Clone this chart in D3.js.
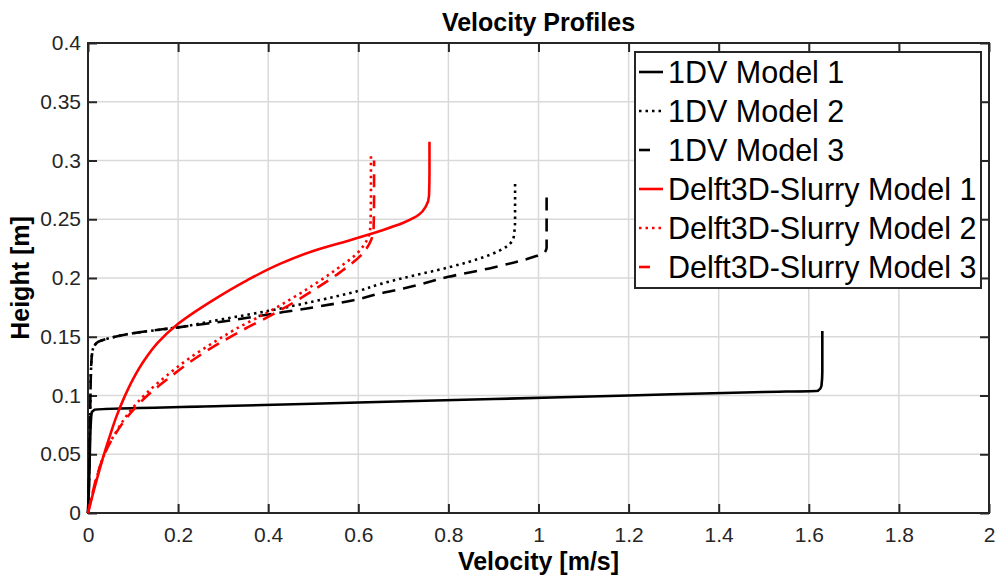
<!DOCTYPE html>
<html>
<head>
<meta charset="utf-8">
<script src="https://cdn.jsdelivr.net/npm/d3@7"></script>
<style>
  body { margin: 0; background: #fff; }
  svg { font-family: "Liberation Sans", Arial, sans-serif; }
</style>
</head>
<body>
<div id="chart"></div>
<script>
// velocity [m/s] and height [m]
const dv1U = [0, 0.002, 0.004, 0.006, 0.008, 0.015, 0.3, 0.6, 0.9, 1.2, 1.5, 1.62, 1.628, 1.63, 1.63];
const dv1Z = [0, 0.02, 0.05, 0.075, 0.085, 0.088, 0.091, 0.094, 0.097, 0.1, 0.103, 0.104, 0.108, 0.12, 0.155];

const dv2U = [0, 0.003, 0.005, 0.007, 0.01, 0.02, 0.05, 0.1, 0.2, 0.3, 0.4, 0.5, 0.6, 0.65, 0.7, 0.8, 0.88, 0.93, 0.945, 0.948, 0.948];
const dv2Z = [0, 0.04, 0.09, 0.125, 0.138, 0.145, 0.149, 0.153, 0.158, 0.165, 0.172, 0.18, 0.189, 0.195, 0.2, 0.209, 0.218, 0.227, 0.235, 0.25, 0.283];

const dv3U = [0, 0.003, 0.005, 0.007, 0.01, 0.02, 0.05, 0.1, 0.2, 0.3, 0.4, 0.5, 0.6, 0.65, 0.7, 0.8, 0.9, 0.99, 1.012, 1.018, 1.018];
const dv3Z = [0, 0.04, 0.09, 0.125, 0.138, 0.145, 0.149, 0.153, 0.158, 0.163, 0.169, 0.175, 0.182, 0.187, 0.191, 0.201, 0.209, 0.218, 0.221, 0.226, 0.273];

const ds1U = [0, 0.004, 0.012, 0.022, 0.034, 0.048, 0.063, 0.08, 0.1, 0.125, 0.155, 0.2, 0.277, 0.353, 0.426, 0.5, 0.58, 0.648, 0.7, 0.735, 0.75, 0.757, 0.758, 0.758];
const ds1Z = [0, 0.006, 0.018, 0.032, 0.048, 0.065, 0.082, 0.098, 0.114, 0.13, 0.145, 0.161, 0.181, 0.198, 0.212, 0.223, 0.232, 0.24, 0.247, 0.254, 0.261, 0.27, 0.29, 0.316];

const ds2U = [0, 0.012, 0.027, 0.042, 0.064, 0.09, 0.13, 0.175, 0.226, 0.278, 0.33, 0.4, 0.45, 0.5, 0.55, 0.6, 0.62, 0.627, 0.628, 0.628];
const ds2Z = [0, 0.019, 0.04, 0.055, 0.07, 0.085, 0.102, 0.117, 0.132, 0.145, 0.157, 0.171, 0.182, 0.194, 0.207, 0.222, 0.233, 0.245, 0.27, 0.305];

const ds3U = [0, 0.01, 0.025, 0.04, 0.062, 0.09, 0.135, 0.18, 0.232, 0.285, 0.34, 0.41, 0.46, 0.51, 0.56, 0.61, 0.628, 0.634, 0.635, 0.635];
const ds3Z = [0, 0.017, 0.038, 0.053, 0.068, 0.083, 0.101, 0.115, 0.13, 0.143, 0.155, 0.169, 0.18, 0.192, 0.205, 0.221, 0.232, 0.243, 0.27, 0.3];

const seriesNames = ["1DV Model 1", "1DV Model 2", "1DV Model 3",
  "Delft3D-Slurry Model 1", "Delft3D-Slurry Model 2", "Delft3D-Slurry Model 3"];

const xTicks = [0, 0.2, 0.4, 0.6, 0.8, 1, 1.2, 1.4, 1.6, 1.8, 2];
const yTicks = [0, 0.05, 0.1, 0.15, 0.2, 0.25, 0.3, 0.35, 0.4];

const W = 997, H = 581;
const margin = { left: 88, right: 989, top: 43, bottom: 513 };

const svg = d3.select("#chart").append("svg")
  .attr("width", W).attr("height", H);

const x = d3.scaleLinear().domain([0, 2]).range([margin.left, margin.right]);
const y = d3.scaleLinear().domain([0, 0.4]).range([margin.bottom, margin.top]);

// grid
svg.append("g").selectAll("line").data(xTicks.slice(1, -1)).join("line")
  .attr("x1", d => x(d)).attr("x2", d => x(d))
  .attr("y1", margin.top).attr("y2", margin.bottom)
  .attr("stroke", "#d9d9d9").attr("stroke-width", 1.5);
svg.append("g").selectAll("line").data(yTicks.slice(1, -1)).join("line")
  .attr("y1", d => y(d)).attr("y2", d => y(d))
  .attr("x1", margin.left).attr("x2", margin.right)
  .attr("stroke", "#d9d9d9").attr("stroke-width", 1.5);

// axes, ticks pointing inward like matlab
const axisColor = "#262626";
const styleAxis = g => {
  g.select(".domain").remove();
  g.selectAll(".tick line").attr("stroke", axisColor).attr("stroke-width", 2);
  g.selectAll(".tick text").attr("fill", "#262626").style("font-size", "21px")
    .style("font-family", "'Liberation Sans', Arial, sans-serif");
};

svg.append("g").attr("transform", `translate(0,${margin.bottom})`)
  .call(d3.axisBottom(x).tickValues(xTicks).tickFormat(d3.format("")).tickSizeInner(-9).tickPadding(14))
  .call(styleAxis);
svg.append("g").attr("transform", `translate(0,${margin.top})`)
  .call(d3.axisTop(x).tickValues(xTicks).tickFormat("").tickSizeInner(-9))
  .call(styleAxis);
svg.append("g").attr("transform", `translate(${margin.left},0)`)
  .call(d3.axisLeft(y).tickValues(yTicks).tickFormat(d3.format("")).tickSizeInner(-9).tickPadding(7))
  .call(styleAxis);
svg.append("g").attr("transform", `translate(${margin.right},0)`)
  .call(d3.axisRight(y).tickValues(yTicks).tickFormat("").tickSizeInner(-9))
  .call(styleAxis);

svg.append("rect")
  .attr("x", margin.left).attr("y", margin.top)
  .attr("width", margin.right - margin.left).attr("height", margin.bottom - margin.top)
  .attr("fill", "none").attr("stroke", axisColor).attr("stroke-width", 2);

// curves
const series = [
  { name: seriesNames[0], u: dv1U, z: dv1Z, color: "#000", dash: null },
  { name: seriesNames[1], u: dv2U, z: dv2Z, color: "#000", dash: "2.5,4" },
  { name: seriesNames[2], u: dv3U, z: dv3Z, color: "#000", dash: "13,8" },
  { name: seriesNames[3], u: ds1U, z: ds1Z, color: "#ff0000", dash: null },
  { name: seriesNames[4], u: ds2U, z: ds2Z, color: "#ff0000", dash: "2.5,4" },
  { name: seriesNames[5], u: ds3U, z: ds3Z, color: "#ff0000", dash: "13,8" }
];

// heights only go up, so a curve monotone in y keeps the corners clean
const line = d3.line()
  .x(d => x(d[0]))
  .y(d => y(d[1]))
  .curve(d3.curveMonotoneY);

svg.append("g").selectAll("path").data(series).join("path")
  .attr("d", s => line(s.u.map((u, i) => [u, s.z[i]])))
  .attr("fill", "none")
  .attr("stroke", s => s.color)
  .attr("stroke-width", 2.6)
  .attr("stroke-dasharray", s => s.dash);

// titles
svg.append("text")
  .attr("x", (margin.left + margin.right) / 2).attr("y", 31)
  .attr("text-anchor", "middle")
  .style("font-size", "25px").style("font-weight", "bold")
  .text("Velocity Profiles");

svg.append("text")
  .attr("x", (margin.left + margin.right) / 2).attr("y", 570)
  .attr("text-anchor", "middle")
  .style("font-size", "25px").style("font-weight", "bold")
  .text("Velocity [m/s]");

svg.append("text")
  .attr("transform", `translate(29,${(margin.top + margin.bottom) / 2}) rotate(-90)`)
  .attr("text-anchor", "middle")
  .style("font-size", "25px").style("font-weight", "bold")
  .text("Height [m]");

// legend
const lg = svg.append("g");
lg.append("rect")
  .attr("x", 635).attr("y", 52).attr("width", 346).attr("height", 236)
  .attr("fill", "#fff").attr("stroke", axisColor).attr("stroke-width", 2);

const rows = lg.selectAll("g.row").data(series).join("g")
  .attr("class", "row")
  .attr("transform", (d, i) => `translate(0,${72 + i * 39})`);

rows.append("line")
  .attr("x1", 639).attr("x2", 663)
  .attr("stroke", d => d.color).attr("stroke-width", 2.6)
  .attr("stroke-dasharray", d => d.dash ? (d.dash === "13,8" ? "11,20" : d.dash) : null);

rows.append("text")
  .attr("x", 668).attr("y", 11)
  .style("font-size", "30.5px")
  .attr("fill", "#000")
  .text(d => d.name);
</script>
</body>
</html>
